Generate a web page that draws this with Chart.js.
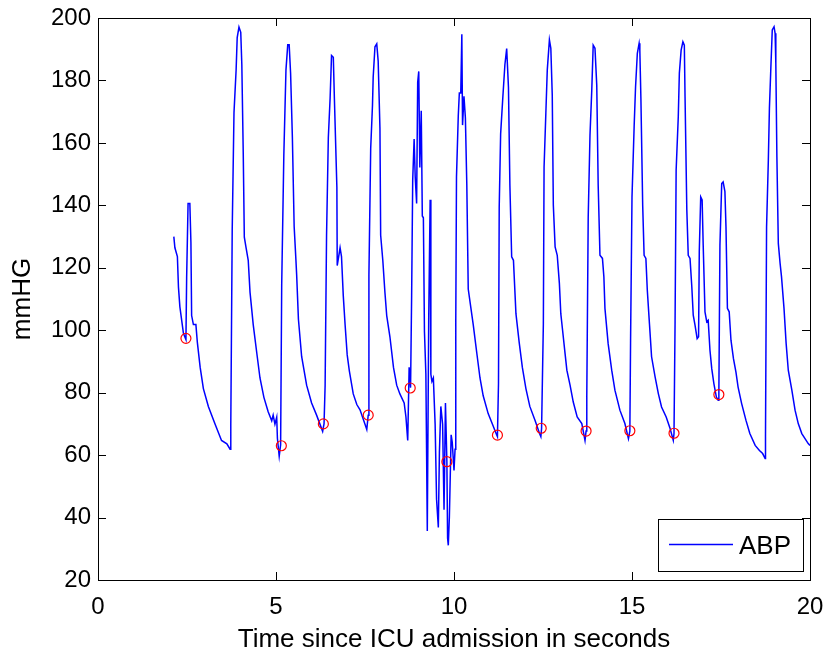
<!DOCTYPE html>
<html>
<head>
<meta charset="utf-8">
<script src="https://cdn.jsdelivr.net/npm/chart.js@4.4.1/dist/chart.umd.min.js"></script>
<style>
body{margin:0;background:#fff;}
</style>
</head>
<body>
<canvas id="abp" width="827" height="655"></canvas>
<script>
// ABP waveform, time in s and pressure in mmHg
const abpTime = [
2.13,2.16,2.23,2.26,2.30,2.40,2.44,2.47,2.49,2.53,2.58,2.61,2.63,2.68,2.75,2.79,2.87,2.96,3.10,3.29,3.47,3.62,3.71,
3.73,3.77,3.82,3.88,3.91,3.96,4.01,4.04,4.08,4.11,4.16,4.22,4.27,4.36,4.46,4.55,4.66,4.78,4.88,4.92,4.97,5.02,5.04,5.09,5.13,
5.16,5.22,5.28,5.33,5.37,5.41,5.46,5.51,5.56,5.58,5.63,5.72,5.86,6.00,6.14,6.31,6.35,
6.38,6.42,6.47,6.52,6.56,6.61,6.64,6.71,6.72,6.80,6.84,6.89,6.94,7.00,7.06,7.17,7.27,7.36,7.50,7.55,7.59,
7.61,7.66,7.71,7.73,7.78,7.83,7.87,7.92,7.94,8.00,8.06,8.11,8.20,8.30,8.39,8.48,8.60,8.65,8.70,8.74,8.78,
8.81,8.84,8.88,8.91,8.95,8.98,9.01,9.04,9.08,9.11,9.14,9.17,9.21,9.25,9.29,9.33,9.35,9.38,9.42,9.47,9.51,9.56,9.59,9.63,9.68,9.72,9.76,9.80,9.82,9.84,9.87,9.92,9.95,10.00,10.03,
10.05,10.07,10.12,10.15,10.19,10.22,10.24,10.28,10.32,10.36,10.40,10.47,10.54,10.64,10.73,10.82,10.96,11.10,11.18,11.22,
11.25,11.27,11.31,11.37,11.43,11.48,11.53,11.57,11.62,11.67,11.74,11.83,11.92,12.02,12.13,12.28,12.40,12.44,12.46,
12.51,12.53,12.58,12.62,12.68,12.72,12.76,12.79,12.84,12.90,12.96,13.00,13.05,13.12,13.17,13.26,13.35,13.46,13.59,13.68,13.71,
13.73,13.77,13.82,13.87,13.91,13.96,14.01,14.05,14.10,14.17,14.21,14.24,14.33,14.43,14.52,14.66,14.80,14.90,14.94,
14.96,15.00,15.06,15.10,15.15,15.20,15.22,15.25,15.30,15.34,15.39,15.43,15.49,15.55,15.65,15.74,15.83,15.96,16.07,16.16,16.18,
16.21,16.24,16.30,16.33,16.38,16.43,16.47,16.49,16.54,16.58,16.63,16.68,16.72,16.77,16.83,16.87,16.89,16.93,16.97,17.00,17.05,17.10,17.14,17.19,17.24,17.30,17.37,17.42,17.44,
17.47,17.52,17.56,17.61,17.64,17.68,17.73,17.78,17.85,17.92,17.98,18.08,18.20,18.31,18.46,18.58,18.67,18.74,
18.75,18.78,18.83,18.86,18.90,18.94,18.99,19.02,19.04,19.07,19.11,19.16,19.20,19.27,19.33,19.39,19.49,19.58,19.67,19.77,19.86,19.95,20.00
];
const abpValue = [
130,126.4,123.6,113.8,107.5,99.0,97.8,97.0,116.7,140.6,140.6,128.2,104.7,101.8,101.8,96.2,88.1,81.3,75.6,69.9,64.7,63.6,61.9,
69.3,132.1,169.7,183.4,193.7,197.1,195.4,185.1,156.6,129.8,126.4,122.4,112.2,101.8,92.7,84.7,78.5,73.9,71.0,72.8,69.9,72.1,65.3,59.6,63.3,
114.4,156.1,183.4,191.4,191.4,182.3,161.7,133.2,122.4,117.8,103.5,91.6,82.4,76.7,72.8,67.6,70.1,
82.4,130.4,161.7,174.3,188,187.4,174.3,145.8,120.7,126.4,123.6,111,101.9,92.1,87,79.6,76.2,74.5,69.9,68.2,72.8,
117.8,158.3,172,181.1,190.8,191.7,186.2,164.6,130.4,122.4,112.1,104.7,97.9,88.1,82.4,79.6,76.7,72.2,64.7,88.1,81.6,
111,148.1,161.2,149.2,140.6,179.4,182.9,152.1,170.3,136.6,136,99.6,85.9,35.7,104.1,141.8,85.9,83.6,84.7,69.9,45.9,36.8,60.8,75.6,69.9,42.5,76.7,57.9,33.4,31.1,40.2,66.5,64.2,55.1,61.9,
103,149.2,168.6,176,176,194.8,165.7,174.9,168,146.4,113.2,107.5,101.8,92.7,84.7,79,73.3,69.3,67.0,65.9,
83,139.5,162.9,174.3,185.1,190.2,177.7,146.4,123.5,122.4,105.3,96.2,88.1,81.3,75.6,71,67,65.9,68.5,
102.1,152.3,169.5,183.3,193,190.3,175.3,140.1,126.7,124,115,105.3,100,92.5,87.2,82.4,77,72.2,70.1,64.7,67.7,
78.6,136.3,162.5,176.9,191.3,190.3,178.5,146.5,124,123,117.1,107,95.7,87.2,80.8,74.4,70.1,65.3,67.7,
96.8,142.7,165.2,178,188.7,191.9,189.7,174.3,140.1,124,123,112.8,102.1,91.5,85,79.7,75.4,72.2,68.5,64.7,66.9,
102.7,151.3,168.4,182.3,189.7,192.4,191.3,174.8,138.5,124,123,113.9,104.8,101.6,97.3,97.9,125.2,142.7,141.7,127.2,105.9,102.7,103.2,93.6,87.7,82.9,78.6,77.6,79.4,
127.2,147.0,147.5,144.4,133.1,107,105.9,96.8,90.9,86.6,81.8,76.5,71.2,66.9,63.1,61.5,60.5,58.9,
65.8,133.1,154.5,171.1,183.9,196.2,197.2,195.1,185.5,155.5,127.8,121.4,117.1,107,95.7,87.2,80.8,74.4,70.1,66.9,65.3,63.7,63.1
];

// detected beat onsets (red circles)
const footTime = [2.47,5.15,6.33,7.59,8.77,9.80,11.22,12.45,13.71,14.94,16.18,17.44];
const footValue = [97.4,63.0,70.0,72.8,81.5,57.9,66.4,68.6,67.7,67.8,67.0,79.4];

const xRange = [0,20], xStep = 5;
const yRange = [20,200], yStep = 20;
const seriesName = 'ABP';
const xTitle = 'Time since ICU admission in seconds';
const yTitle = 'mmHG';

const FONT = "'Liberation Sans', Arial, Helvetica, sans-serif";
const TL = 8;

const frame = {
  id: 'frame',
  afterDatasetsDraw(chart) {
    const {ctx, chartArea: a, scales: {x, y}} = chart;
    ctx.save();
    ctx.strokeStyle = '#000';
    ctx.lineWidth = 1;
    ctx.strokeRect(a.left + 0.5, a.top + 0.5, a.right - a.left, a.bottom - a.top);
    ctx.beginPath();
    x.ticks.forEach(t => {
      const p = Math.round(x.getPixelForValue(t.value)) + 0.5;
      ctx.moveTo(p, a.bottom); ctx.lineTo(p, a.bottom - TL);
      ctx.moveTo(p, a.top); ctx.lineTo(p, a.top + TL);
    });
    y.ticks.forEach(t => {
      const p = Math.round(y.getPixelForValue(t.value)) + 0.5;
      ctx.moveTo(a.left, p); ctx.lineTo(a.left + TL, p);
      ctx.moveTo(a.right, p); ctx.lineTo(a.right - TL, p);
    });
    ctx.stroke();

    // legend box, bottom right inside the axes
    const ds = chart.data.datasets[0];
    const bx = a.right - 152, by = a.bottom - 61, bw = 145, bh = 52;
    ctx.fillStyle = '#fff';
    ctx.fillRect(bx, by, bw, bh);
    ctx.strokeRect(bx + 0.5, by + 0.5, bw, bh);
    ctx.strokeStyle = ds.borderColor;
    ctx.lineWidth = ds.borderWidth;
    ctx.beginPath();
    ctx.moveTo(bx + 11, by + 25.5);
    ctx.lineTo(bx + 75, by + 25.5);
    ctx.stroke();
    ctx.fillStyle = '#000';
    ctx.font = '26px ' + FONT;
    ctx.textBaseline = 'middle';
    ctx.fillText(ds.label, bx + 81, by + 28);
    ctx.restore();
  }
};

const ctx = document.getElementById('abp').getContext('2d');
const chart = new Chart(ctx, {
  type: 'line',
  data: {
    datasets: [{
      label: seriesName,
      data: abpTime.map((t, i) => ({x: t, y: abpValue[i]})),
      borderColor: '#0000ff',
      borderWidth: 1.5,
      pointRadius: 0,
      tension: 0,
      fill: false,
      order: 2
    }, {
      label: 'onset',
      data: footTime.map((t, i) => ({x: t, y: footValue[i]})),
      showLine: false,
      pointStyle: 'circle',
      pointRadius: 5,
      pointBorderColor: '#ff0000',
      pointBackgroundColor: 'rgba(0,0,0,0)',
      pointBorderWidth: 1.2,
      order: 1
    }]
  },
  options: {
    responsive: false,
    animation: false,
    layout: {padding: {left: 0, right: 17, top: 18, bottom: 0}},
    plugins: {
      legend: {display: false},
      tooltip: {enabled: false}
    },
    scales: {
      x: {
        type: 'linear',
        min: xRange[0], max: xRange[1],
        grid: {display: false, drawTicks: false},
        border: {display: false},
        ticks: {stepSize: xStep, padding: 13, color: '#000', font: {family: FONT, size: 24}, maxRotation: 0},
        title: {display: true, text: xTitle, color: '#000', font: {family: FONT, size: 26}, padding: {top: 0, bottom: 0}},
        afterFit: s => { s.height = 75; s.paddingLeft = 0; s.paddingRight = 0; }
      },
      y: {
        type: 'linear',
        min: yRange[0], max: yRange[1],
        grid: {display: false, drawTicks: false},
        border: {display: false},
        ticks: {stepSize: yStep, padding: 7, color: '#000', font: {family: FONT, size: 24}},
        title: {display: true, text: yTitle, color: '#000', font: {family: FONT, size: 26}, padding: {top: 7, bottom: 0}},
        afterFit: s => { s.width = 98; s.paddingTop = 0; s.paddingBottom = 0; }
      }
    }
  },
  plugins: [frame]
});
</script>
</body>
</html>
